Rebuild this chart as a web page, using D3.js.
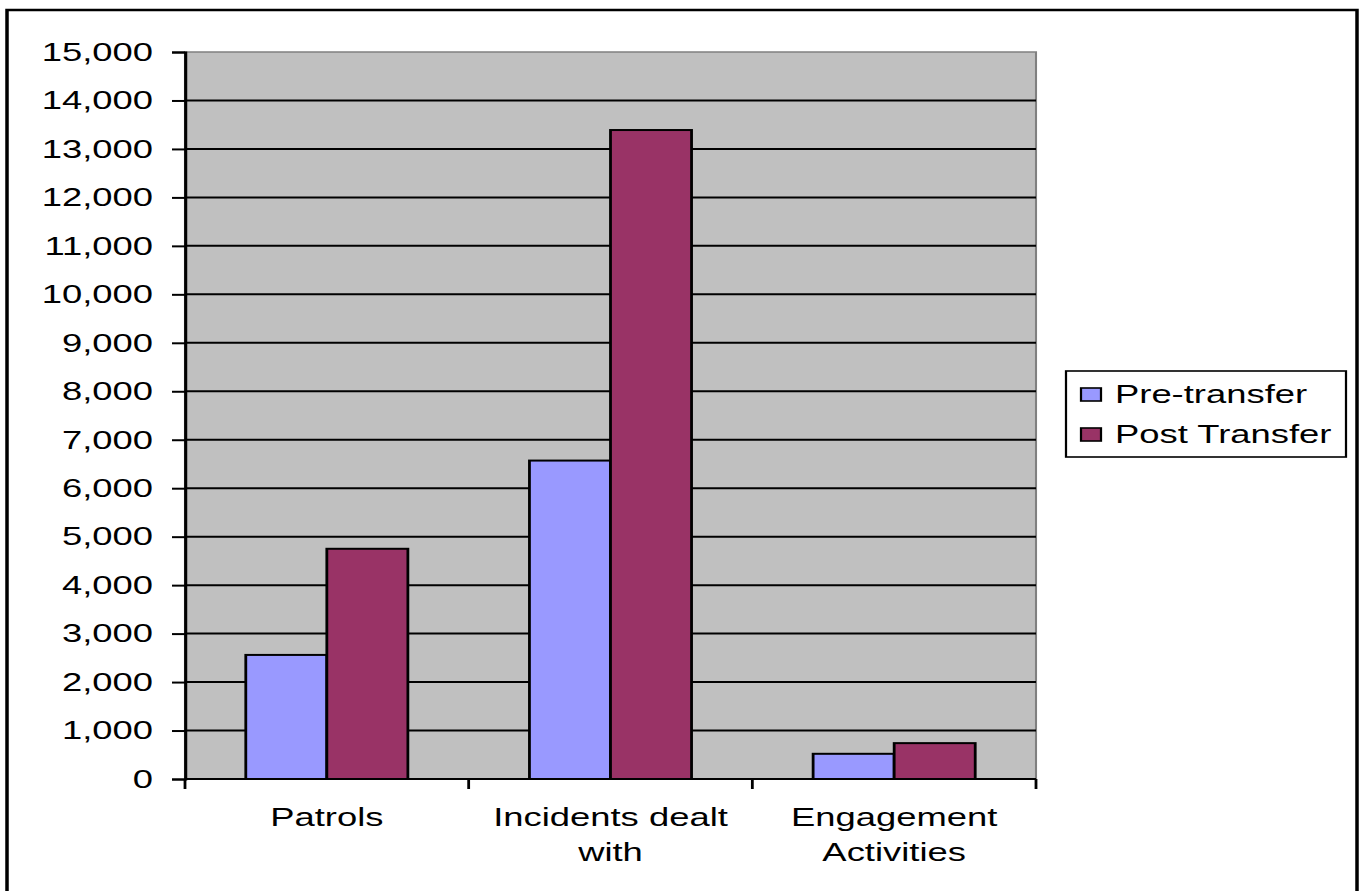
<!DOCTYPE html>
<html>
<head>
<meta charset="utf-8">
<script src="https://cdn.jsdelivr.net/npm/d3@7"></script>
<style>
  html, body { margin: 0; padding: 0; background: #fff; }
  svg { display: block; }
  text { font-family: "Liberation Sans", Arial, sans-serif; fill: #000; }
</style>
</head>
<body>
<div id="chart"></div>
<script>
// data
const categories = [["Patrols"], ["Incidents dealt", "with"], ["Engagement", "Activities"]];
const series = ["Pre-transfer", "Post Transfer"];
const preTransfer = [2560, 6570, 520];
const postTransfer = [4750, 13390, 740];
const yTicks = [0, 1000, 2000, 3000, 4000, 5000, 6000, 7000, 8000, 9000, 10000, 11000, 12000, 13000, 14000, 15000];
const colors = ["#9999FF", "#993366"];

const W = 1360, H = 891;
const SX = 1.4; // the original is stretched horizontally, text included

const svg = d3.select("#chart").append("svg")
    .attr("width", W)
    .attr("height", H);

// everything drawn in "design" units then stretched
const root = svg.append("g").attr("transform", `scale(${SX},1)`);
const px = v => v / SX;

// outer frame
root.append("rect")
    .attr("x", px(7)).attr("y", 10)
    .attr("width", px(1357 - 7)).attr("height", 900)
    .attr("fill", "#fff")
    .attr("stroke", "#000")
    .attr("stroke-width", 2.5);

const plot = { left: 185, right: 1036, top: 52, bottom: 779 };

const y = d3.scaleLinear().domain([0, 15000]).range([plot.bottom, plot.top]);
const labels = categories.map(c => c.join(" "));
const x = d3.scaleBand().domain(labels).range([px(plot.left), px(plot.right)]).padding(0);
const xs = d3.scaleBand().domain(series).range([0, x.bandwidth()]).paddingInner(0).paddingOuter(0.75);

// plot background
root.append("rect")
    .attr("x", px(plot.left)).attr("y", plot.top)
    .attr("width", px(plot.right - plot.left)).attr("height", plot.bottom - plot.top)
    .attr("fill", "#C0C0C0")
    .attr("stroke", "#808080")
    .attr("stroke-width", 1.5);

// gridlines
root.append("g").selectAll("line")
    .data(yTicks.filter(t => t > 0 && t < 15000))
    .enter().append("line")
    .attr("x1", px(plot.left)).attr("x2", px(plot.right))
    .attr("y1", d => y(d)).attr("y2", d => y(d))
    .attr("stroke", "#000")
    .attr("stroke-width", 2);

// bars
const rows = labels.map((c, i) => ({ cat: c, values: [preTransfer[i], postTransfer[i]] }));
const grp = root.append("g").selectAll("g")
    .data(rows)
    .enter().append("g")
    .attr("transform", d => `translate(${x(d.cat)},0)`);

grp.selectAll("rect")
    .data(d => d.values.map((v, i) => ({ s: series[i], v: v, i: i })))
    .enter().append("rect")
    .attr("x", d => xs(d.s))
    .attr("width", xs.bandwidth())
    .attr("y", d => y(d.v))
    .attr("height", d => plot.bottom - y(d.v))
    .attr("fill", d => colors[d.i])
    .attr("stroke", "#000")
    .attr("stroke-width", 2);

// y axis
const yAxis = root.append("g")
    .attr("transform", `translate(${px(plot.left)},0)`)
    .call(d3.axisLeft(y).tickValues(yTicks).tickFormat(d3.format(",")).tickSize(px(13)).tickPadding(px(19)));
yAxis.select(".domain").attr("stroke", "#000").attr("stroke-width", 2.2);
yAxis.selectAll(".tick line").attr("stroke", "#000").attr("stroke-width", 2);
yAxis.selectAll(".tick text")
    .attr("font-size", 26)
    .attr("font-family", "Liberation Sans, Arial, sans-serif")
    .attr("fill", "#000");

// x axis line and boundary ticks
root.append("line")
    .attr("x1", px(plot.left)).attr("x2", px(plot.right))
    .attr("y1", plot.bottom).attr("y2", plot.bottom)
    .attr("stroke", "#000").attr("stroke-width", 2);

const bounds = labels.map(c => x(c)).concat([x(labels[labels.length - 1]) + x.bandwidth()]);
root.append("g").selectAll("line")
    .data(bounds)
    .enter().append("line")
    .attr("x1", d => d).attr("x2", d => d)
    .attr("y1", plot.bottom).attr("y2", plot.bottom + 10)
    .attr("stroke", "#000").attr("stroke-width", 2);

// category labels
const catText = root.append("g").selectAll("text")
    .data(categories)
    .enter().append("text")
    .attr("text-anchor", "middle")
    .attr("font-size", 26)
    .attr("transform", (d, i) => `translate(${x(labels[i]) + x.bandwidth() / 2},826)`);
catText.selectAll("tspan")
    .data(d => d)
    .enter().append("tspan")
    .attr("x", 0)
    .attr("dy", (d, i) => i === 0 ? 0 : 35)
    .text(d => d);

// legend
const lg = root.append("g");
lg.append("rect")
    .attr("x", px(1066)).attr("y", 371)
    .attr("width", px(1346 - 1066)).attr("height", 86)
    .attr("fill", "#fff")
    .attr("stroke", "#000")
    .attr("stroke-width", 1.6);

const items = lg.selectAll("g.item")
    .data(series)
    .enter().append("g")
    .attr("class", "item")
    .attr("transform", (d, i) => `translate(${px(1081)},${388 + i * 40})`);
items.append("rect")
    .attr("width", px(20)).attr("height", 13)
    .attr("fill", (d, i) => colors[i])
    .attr("stroke", "#000")
    .attr("stroke-width", 1.6);
items.append("text")
    .attr("x", px(1115 - 1081))
    .attr("y", 15)
    .attr("font-size", 26)
    .text(d => d);
</script>
</body>
</html>
